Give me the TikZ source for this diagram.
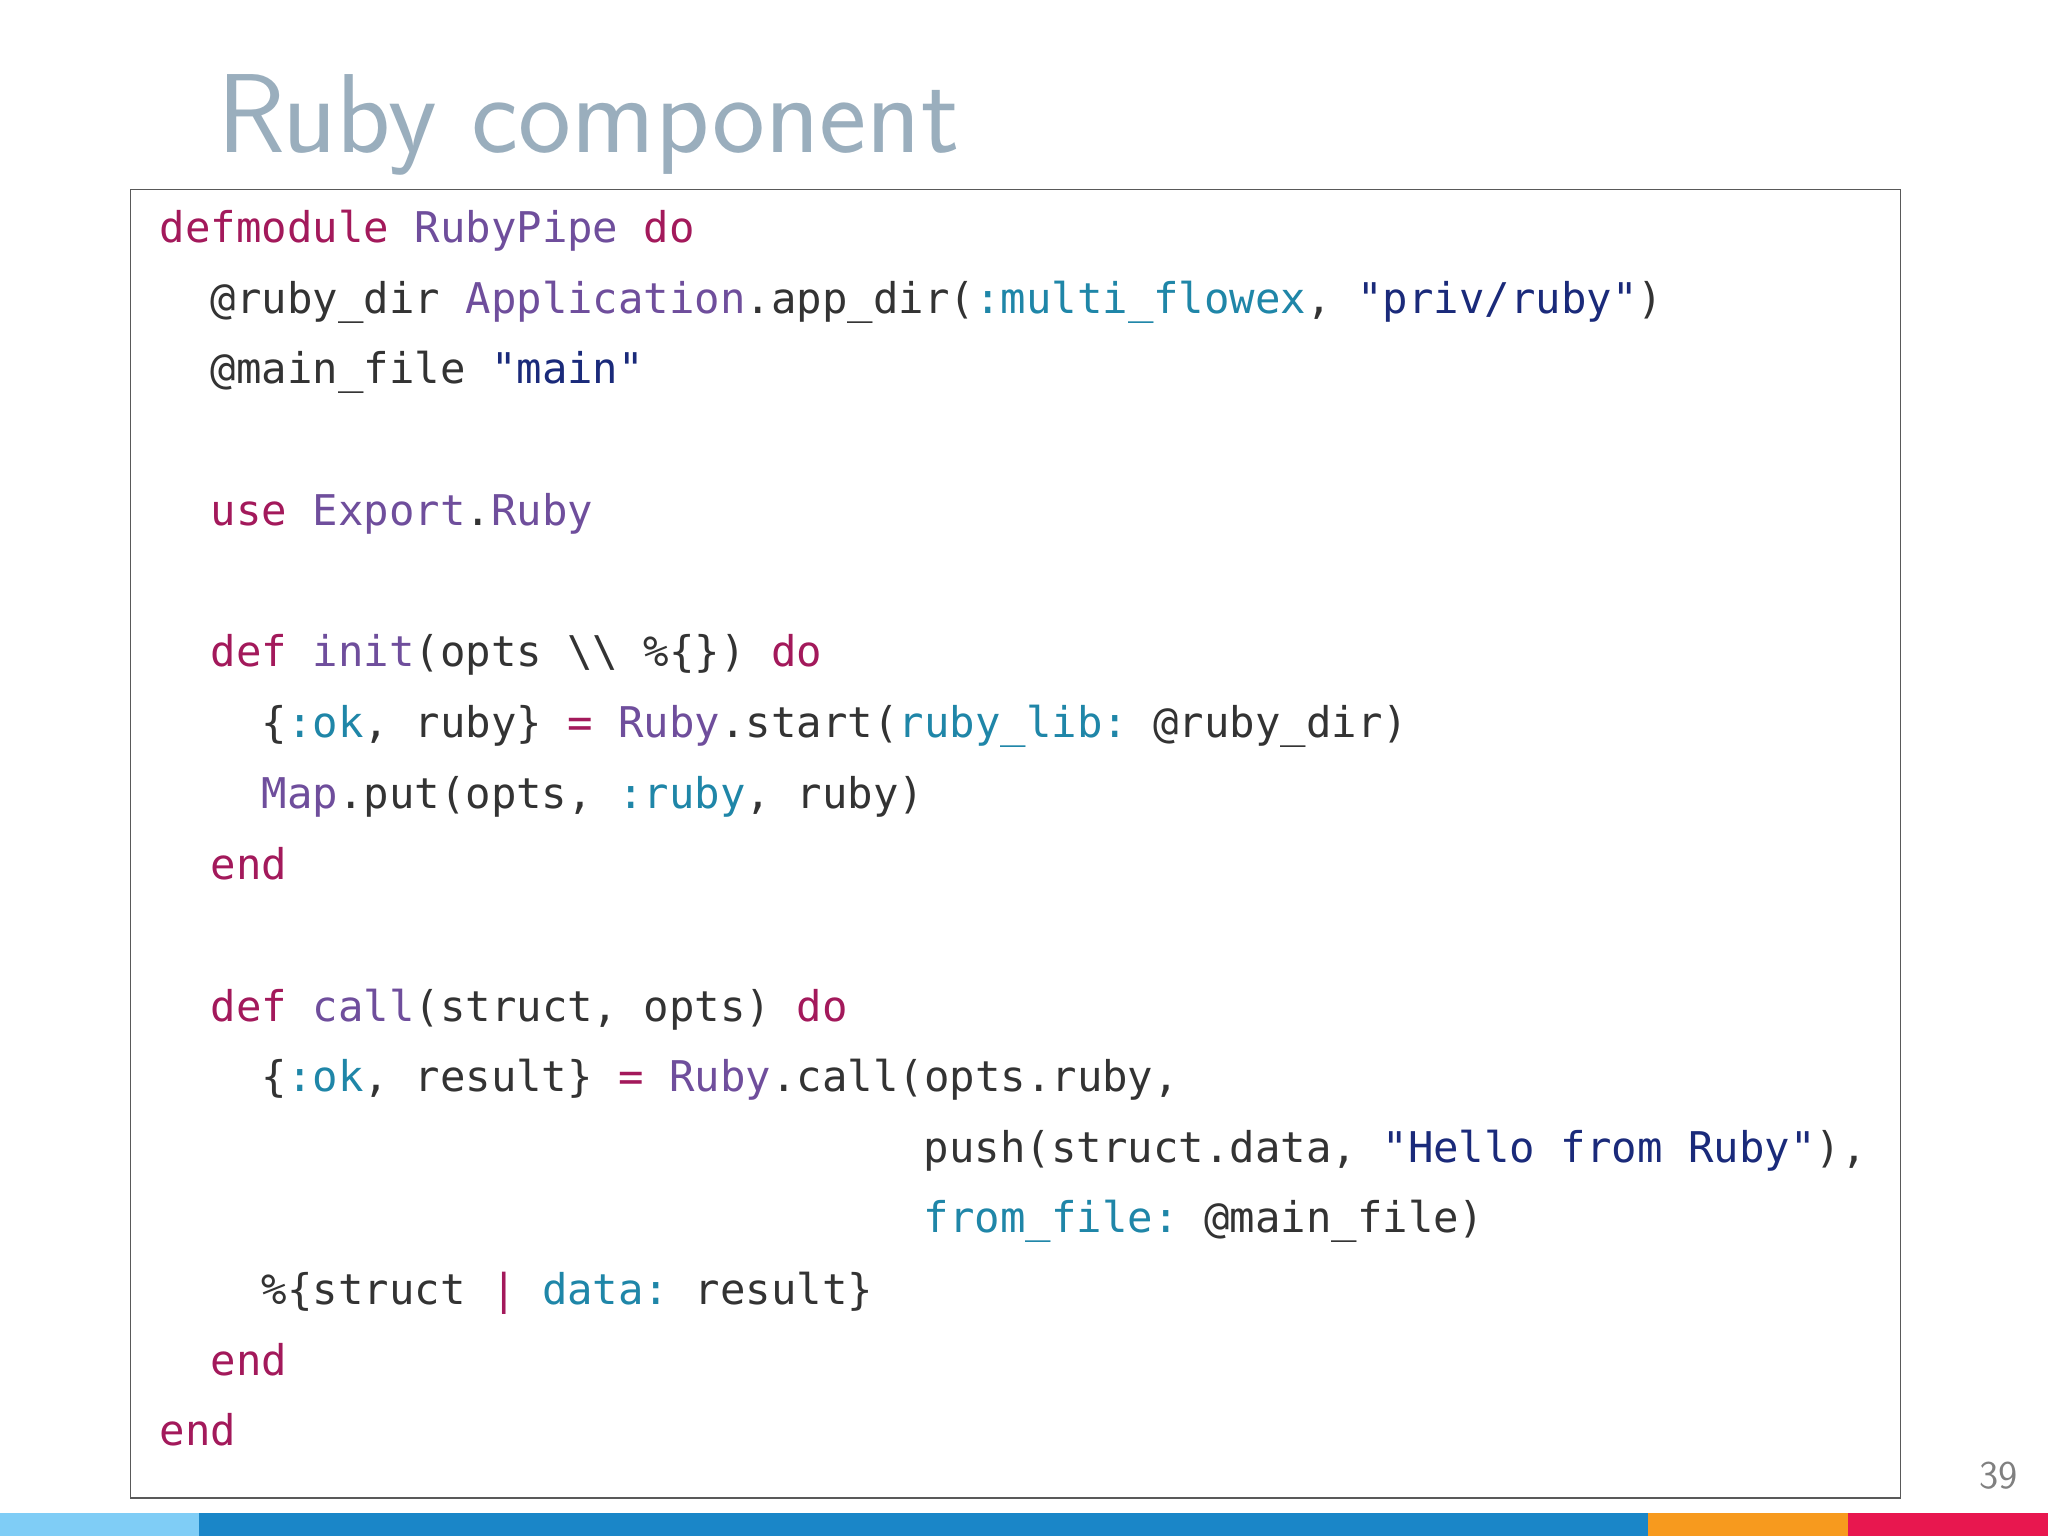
\documentclass[tikz,border=0pt]{standalone}
\usepackage{fontspec}
\setmainfont{Lato}
\setmonofont{DejaVu Sans Mono}
\definecolor{ttl}{HTML}{9AAEBD}
\definecolor{kwc}{HTML}{A3195B}
\definecolor{mdc}{HTML}{6F4E9C}
\definecolor{atc}{HTML}{1F86A8}
\definecolor{stc}{HTML}{1A2A7A}
\definecolor{txc}{HTML}{333333}
\definecolor{b1}{HTML}{7FCDF6}
\definecolor{b2}{HTML}{1A86C8}
\definecolor{b3}{HTML}{F79A1E}
\definecolor{b4}{HTML}{E8174F}
\newcommand{\kw}[1]{\textcolor{kwc}{#1}}
\newcommand{\md}[1]{\textcolor{mdc}{#1}}
\newcommand{\atm}[1]{\textcolor{atc}{#1}}
\newcommand{\strg}[1]{\textcolor{stc}{#1}}
\begin{document}
\begin{tikzpicture}[x=0.5pt,y=-0.5pt,
  code/.style={anchor=base west,inner sep=0pt,font=\ttfamily\fontsize{16.2}{18}\selectfont,text=txc}]
\useasboundingbox (0,0) rectangle (1568,1176);
\fill[white] (0,0) rectangle (1568,1176);
\node[anchor=base west,inner sep=0pt,text=ttl,font=\fontsize{43}{48}\selectfont\sffamily] (title) at (166,117) {Ruby component};
\draw[gray!70!black,line width=0.6pt] (100,145) rectangle (1455,1147);
\def\cx#1{122+19.5*#1}
\node[code] (l1) at (\cx{0},186) {\kw{defmodule} \md{RubyPipe} \kw{do}};
\node[code] (l2) at (\cx{2},240) {@ruby\_dir \md{Application}.app\_dir(\atm{:multi\_flowex}, \strg{"priv/ruby"})};
\node[code] (l3) at (\cx{2},294) {@main\_file \strg{"main"}};
\node[code] (l5) at (\cx{2},402) {\kw{use} \md{Export}.\md{Ruby}};
\node[code] (l7) at (\cx{2},510) {\kw{def} \md{init}(opts \textbackslash\textbackslash{} \%\{\}) \kw{do}};
\node[code] (l8) at (\cx{4},565) {\{\atm{:ok}, ruby\} \kw{=} \md{Ruby}.start(\atm{ruby\_lib:} @ruby\_dir)};
\node[code] (l9) at (\cx{4},619) {\md{Map}.put(opts, \atm{:ruby}, ruby)};
\node[code] (l10) at (\cx{2},673) {\kw{end}};
\node[code] (l12) at (\cx{2},782) {\kw{def} \md{call}(struct, opts) \kw{do}};
\node[code] (l13) at (\cx{4},836) {\{\atm{:ok}, result\} \kw{=} \md{Ruby}.call(opts.ruby,};
\node[code] (l14) at (\cx{30},890) {push(struct.data, \strg{"Hello from Ruby"}),};
\node[code] (l15) at (\cx{30},944) {\atm{from\_file:} @main\_file)};
\node[code] (l16) at (\cx{4},999) {\%\{struct \kw{|} \atm{data:} result\}};
\node[code] (l17) at (\cx{2},1053) {\kw{end}};
\node[code] (l18) at (\cx{0},1107) {\kw{end}};
\node[text=gray,font=\fontsize{15}{18}\selectfont\sffamily,inner sep=0pt] (pg) at (1530,1130) {39};
\fill[b1] (0,1158) rectangle (152,1176);
\fill[b2] (152,1158) rectangle (1262,1176);
\fill[b3] (1262,1158) rectangle (1415,1176);
\fill[b4] (1415,1158) rectangle (1568,1176);
\end{tikzpicture}
\end{document}
